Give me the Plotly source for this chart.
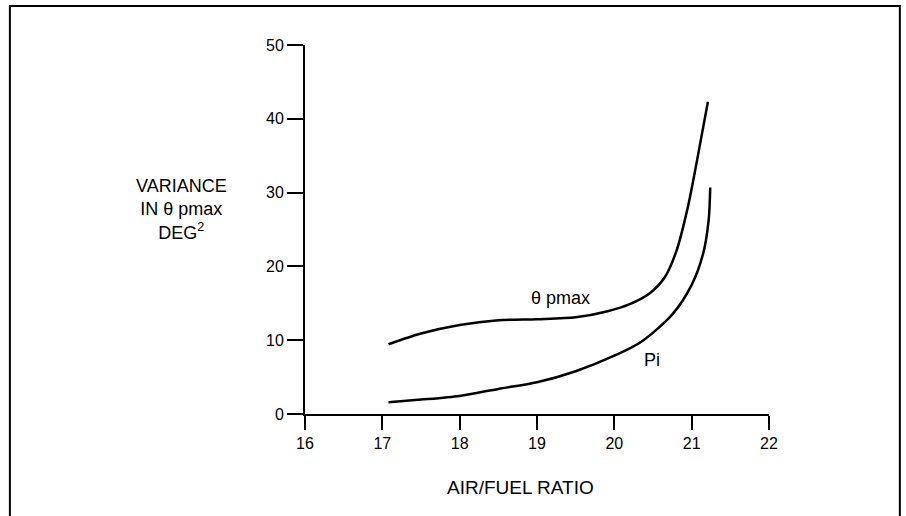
import plotly.graph_objects as go

# curve readings (air/fuel ratio vs variance, deg^2)
theta_x = [17.08, 17.5, 18.0, 18.5, 19.0, 19.5, 19.9, 20.2, 20.45, 20.65, 20.8, 20.95, 21.07, 21.21]
theta_y = [9.45, 10.9, 12.05, 12.7, 12.85, 13.1, 13.9, 14.9, 16.3, 18.5, 22.0, 28.0, 34.4, 42.3]

pi_x = [17.08, 17.5, 18.0, 18.5, 19.0, 19.5, 20.0, 20.35, 20.75, 21.0, 21.15, 21.22, 21.24]
pi_y = [1.6, 1.95, 2.45, 3.4, 4.3, 5.8, 7.9, 9.8, 13.5, 17.5, 21.8, 26.3, 30.7]

x_ticks = [16, 17, 18, 19, 20, 21, 22]
y_ticks = [0, 10, 20, 30, 40, 50]

FONT = "Liberation Sans, Arial, sans-serif"

fig = go.Figure()
for xs, ys in [(theta_x, theta_y), (pi_x, pi_y)]:
    fig.add_trace(go.Scatter(
        x=xs, y=ys, mode="lines",
        line=dict(color="black", width=2.5, shape="spline", smoothing=0.8),
        showlegend=False, hoverinfo="skip",
    ))

# curve labels
fig.add_annotation(x=19.3, y=15.7, text="θ pmax", showarrow=False,
                   font=dict(size=18, color="black", family=FONT))
fig.add_annotation(x=20.49, y=7.3, text="Pi", showarrow=False,
                   font=dict(size=18, color="black", family=FONT))

# axis titles
fig.add_annotation(xref="paper", yref="paper", x=-0.267, y=0.553,
                   xanchor="center", yanchor="middle",
                   text="VARIANCE<br>IN θ pmax<br>DEG<sup>2</sup>", showarrow=False,
                   align="center", font=dict(size=18, color="black", family=FONT))
fig.add_annotation(xref="paper", yref="paper", x=0.465, y=-0.2,
                   xanchor="center", yanchor="middle",
                   text="AIR/FUEL RATIO", showarrow=False,
                   font=dict(size=19, color="black", family=FONT))

# outer frame
fig.add_shape(type="rect", xref="paper", yref="paper",
              x0=-0.636, x1=1.282, y0=-0.3, y1=1.106,
              line=dict(color="black", width=2), layer="below")

axis_style = dict(showline=True, linecolor="black", linewidth=2, showgrid=False,
                  zeroline=False, ticks="outside", tickcolor="black", tickwidth=2,
                  tickfont=dict(size=16, color="black", family=FONT))

fig.update_xaxes(range=[16, 22], tickvals=x_ticks, ticklen=14, **axis_style)
fig.update_yaxes(range=[0, 50], tickvals=y_ticks, ticklen=16, **axis_style)

fig.update_layout(
    width=906, height=516,
    margin=dict(l=305, r=137, t=45, b=102),
    plot_bgcolor="white", paper_bgcolor="white",
)

# drop the page's default body margin so the figure sits at the window corner
fig.write_html("out.html", config={"displayModeBar": False},
               post_script="document.body.style.margin='0px';")
